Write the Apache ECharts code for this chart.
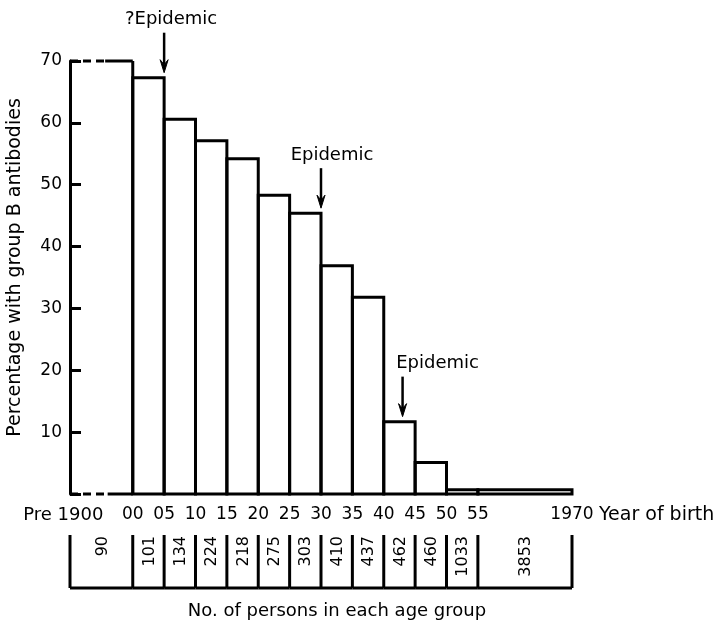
<!DOCTYPE html>
<html><head><meta charset="utf-8">
<script src="https://cdn.jsdelivr.net/npm/echarts@6/dist/echarts.min.js"></script>
<style>html,body{margin:0;padding:0;background:#fff}#c{width:723px;height:625px}</style>
</head><body><div id="c"></div>
<script>
// ---------- data ----------
const binEdges = [1890,1900,1905,1910,1915,1920,1925,1930,1935,1940,1945,1950,1955,1970];
const percentWithAntibodies = [70,67.3,60.6,57.1,54.2,48.3,45.4,36.9,31.8,11.7,5.1,0.7,0.7];
const personsPerGroup = [90,101,134,224,218,275,303,410,437,462,460,1033,3853];
const xTickYears = [1900,1905,1910,1915,1920,1925,1930,1935,1940,1945,1950,1955,1970];
const xTickLabels = ['00','05','10','15','20','25','30','35','40','45','50','55','1970'];
const firstBinLabel = 'Pre 1900';
const xAxisTitle = 'Year of birth';
const yAxisTitle = 'Percentage with group B antibodies';
const tableTitle = 'No. of persons in each age group';
const epidemicYears = [1905,1930,1943];
const epidemicLevels = [67.3,45.4,11.7];
const epidemicLabels = ['?Epidemic','Epidemic','Epidemic'];

// ---------- style ----------
const INK = '#000';
const LW = 3;
const FONT = 'DejaVu Sans';

const bins = percentWithAntibodies.map((v,i)=>[binEdges[i], binEdges[i+1], v]);
const cells = personsPerGroup.map((n,i)=>[binEdges[i], binEdges[i+1], n]);

function seg(a,b,extra){
  return {type:'line', shape:{x1:a[0],y1:a[1],x2:b[0],y2:b[1]},
    style:Object.assign({stroke:INK,lineWidth:LW,fill:null},extra||{})};
}

function renderBar(params, api){
  const x0 = api.value(0), x1 = api.value(1), v = api.value(2);
  const bl = api.coord([x0,0]), tr = api.coord([x1,v]);
  if (params.dataIndex === 0){
    const sTop = api.coord([x0+(x1-x0)*0.56, v]);
    const sBot = api.coord([x0+(x1-x0)*0.6, 0]);
    return {type:'group', children:[
      seg([bl[0],tr[1]],[sTop[0],tr[1]],{lineDash:[8,5]}),
      seg([sTop[0],tr[1]],[tr[0],tr[1]]),
      seg([bl[0],bl[1]],[sBot[0],bl[1]],{lineDash:[8,5]}),
      seg([sBot[0],bl[1]],[tr[0],bl[1]]),
      seg([tr[0],bl[1]],[tr[0],tr[1]])
    ]};
  }
  return {type:'rect', shape:{x:bl[0], y:tr[1], width:tr[0]-bl[0], height:bl[1]-tr[1]},
    style:{stroke:INK, lineWidth:LW, fill:null}};
}

function renderCell(params, api){
  const x0 = api.value(0), x1 = api.value(1);
  const b0 = api.coord([x0,0]), t0 = api.coord([x0,1]);
  const b1 = api.coord([x1,0]), t1 = api.coord([x1,1]);
  const ch = [seg(b0,t0), seg(b0,b1)];
  if (params.dataIndex === cells.length-1) ch.push(seg(b1,t1));
  ch.push({type:'text', x:(b0[0]+b1[0])/2 + 1, y:t0[1]+1, rotation:Math.PI/2,
    style:{text:String(personsPerGroup[params.dataIndex]), x:0, y:0, align:'right', verticalAlign:'middle',
      fontSize:16, fontFamily:FONT, fill:INK}});
  return {type:'group', children:ch};
}

function renderTick(params, api){
  const p = api.coord([api.value(0),0]);
  return {type:'text', x:p[0], y:p[1]+21,
    style:{text:xTickLabels[params.dataIndex], x:0, y:0, align:'center', verticalAlign:'middle',
      fontSize:17, fontFamily:FONT, fill:INK}};
}

function renderEndLabel(params, api){
  const p = api.coord([api.value(0),0]);
  const first = params.dataIndex === 0;
  return {type:'text', x: first ? p[0]+2 : p[0]+27, y:p[1]+21,
    style:{text: first ? firstBinLabel : xAxisTitle, x:0, y:0, align: first ? 'right':'left',
      verticalAlign:'middle', fontSize: first ? 18 : 19, fontFamily:FONT, fill:INK}};
}

const labelDx = [7, 11, 35];
function renderEpidemic(params, api){
  const i = params.dataIndex;
  const p = api.coord([api.value(0), api.value(1)]);
  const tipY = p[1]-5, topY = tipY-40, x = p[0];
  return {type:'group', children:[
    seg([x,topY],[x,tipY-8],{lineWidth:2.5}),
    {type:'polygon', shape:{points:[[x-4,tipY-13],[x,tipY-8],[x+4,tipY-13],[x,tipY]]}, style:{fill:INK, stroke:INK, lineWidth:1}},
    {type:'text', x:x+labelDx[i], y:topY-13,
      style:{text:epidemicLabels[i], x:0, y:0, align:'center', verticalAlign:'middle', fontSize:18, fontFamily:FONT, fill:INK}}
  ]};
}

const chart = echarts.init(document.getElementById('c'), null, {renderer:'canvas'});
chart.setOption({
  backgroundColor:'#fff',
  animation:false,
  grid:[{left:70, top:61, width:502, height:433, outerBoundsMode:'none', containLabel:false},
        {left:70, top:535, width:502, height:53, outerBoundsMode:'none', containLabel:false}],
  xAxis:[
    {gridIndex:0, type:'value', min:1890, max:1970, show:false},
    {gridIndex:1, type:'value', min:1890, max:1970,
      axisLine:{show:false}, axisTick:{show:false}, axisLabel:{show:false}, splitLine:{show:false},
      name:tableTitle, nameLocation:'middle', nameGap:14,
      nameTextStyle:{color:INK, fontSize:18, fontFamily:FONT, padding:[0,0,0,32]}}
  ],
  yAxis:[
    {gridIndex:0, type:'value', min:0, max:70, interval:10,
      axisLine:{show:true, lineStyle:{color:INK, width:LW}},
      axisTick:{show:true, inside:true, length:11, lineStyle:{color:INK, width:LW}},
      axisLabel:{formatter:v=> v===0 ? '' : String(v), color:INK, fontSize:17, fontFamily:FONT, margin:8},
      splitLine:{show:false},
      name:yAxisTitle, nameLocation:'middle', nameGap:45,
      nameTextStyle:{color:INK, fontSize:19, fontFamily:FONT, padding:[0,0,0,20]}},
    {gridIndex:1, type:'value', min:0, max:1, show:false}
  ],
  series:[
    {type:'custom', xAxisIndex:0, yAxisIndex:0, clip:false, data:bins, renderItem:renderBar, encode:{x:[0,1], y:2}, silent:true},
    {type:'custom', xAxisIndex:1, yAxisIndex:1, clip:false, data:cells, renderItem:renderCell, encode:{x:[0,1]}, silent:true},
    {type:'custom', xAxisIndex:0, yAxisIndex:0, clip:false, data:xTickYears.map(y=>[y]), renderItem:renderTick, encode:{x:0}, silent:true},
    {type:'custom', xAxisIndex:0, yAxisIndex:0, clip:false, data:[[(binEdges[0]+binEdges[1])/2],[binEdges[binEdges.length-1]]], renderItem:renderEndLabel, encode:{x:0}, silent:true},
    {type:'custom', xAxisIndex:0, yAxisIndex:0, clip:false, data:epidemicYears.map((y,i)=>[y, epidemicLevels[i]]), renderItem:renderEpidemic, encode:{x:0, y:1}, silent:true}
  ]
});
</script></body></html>
